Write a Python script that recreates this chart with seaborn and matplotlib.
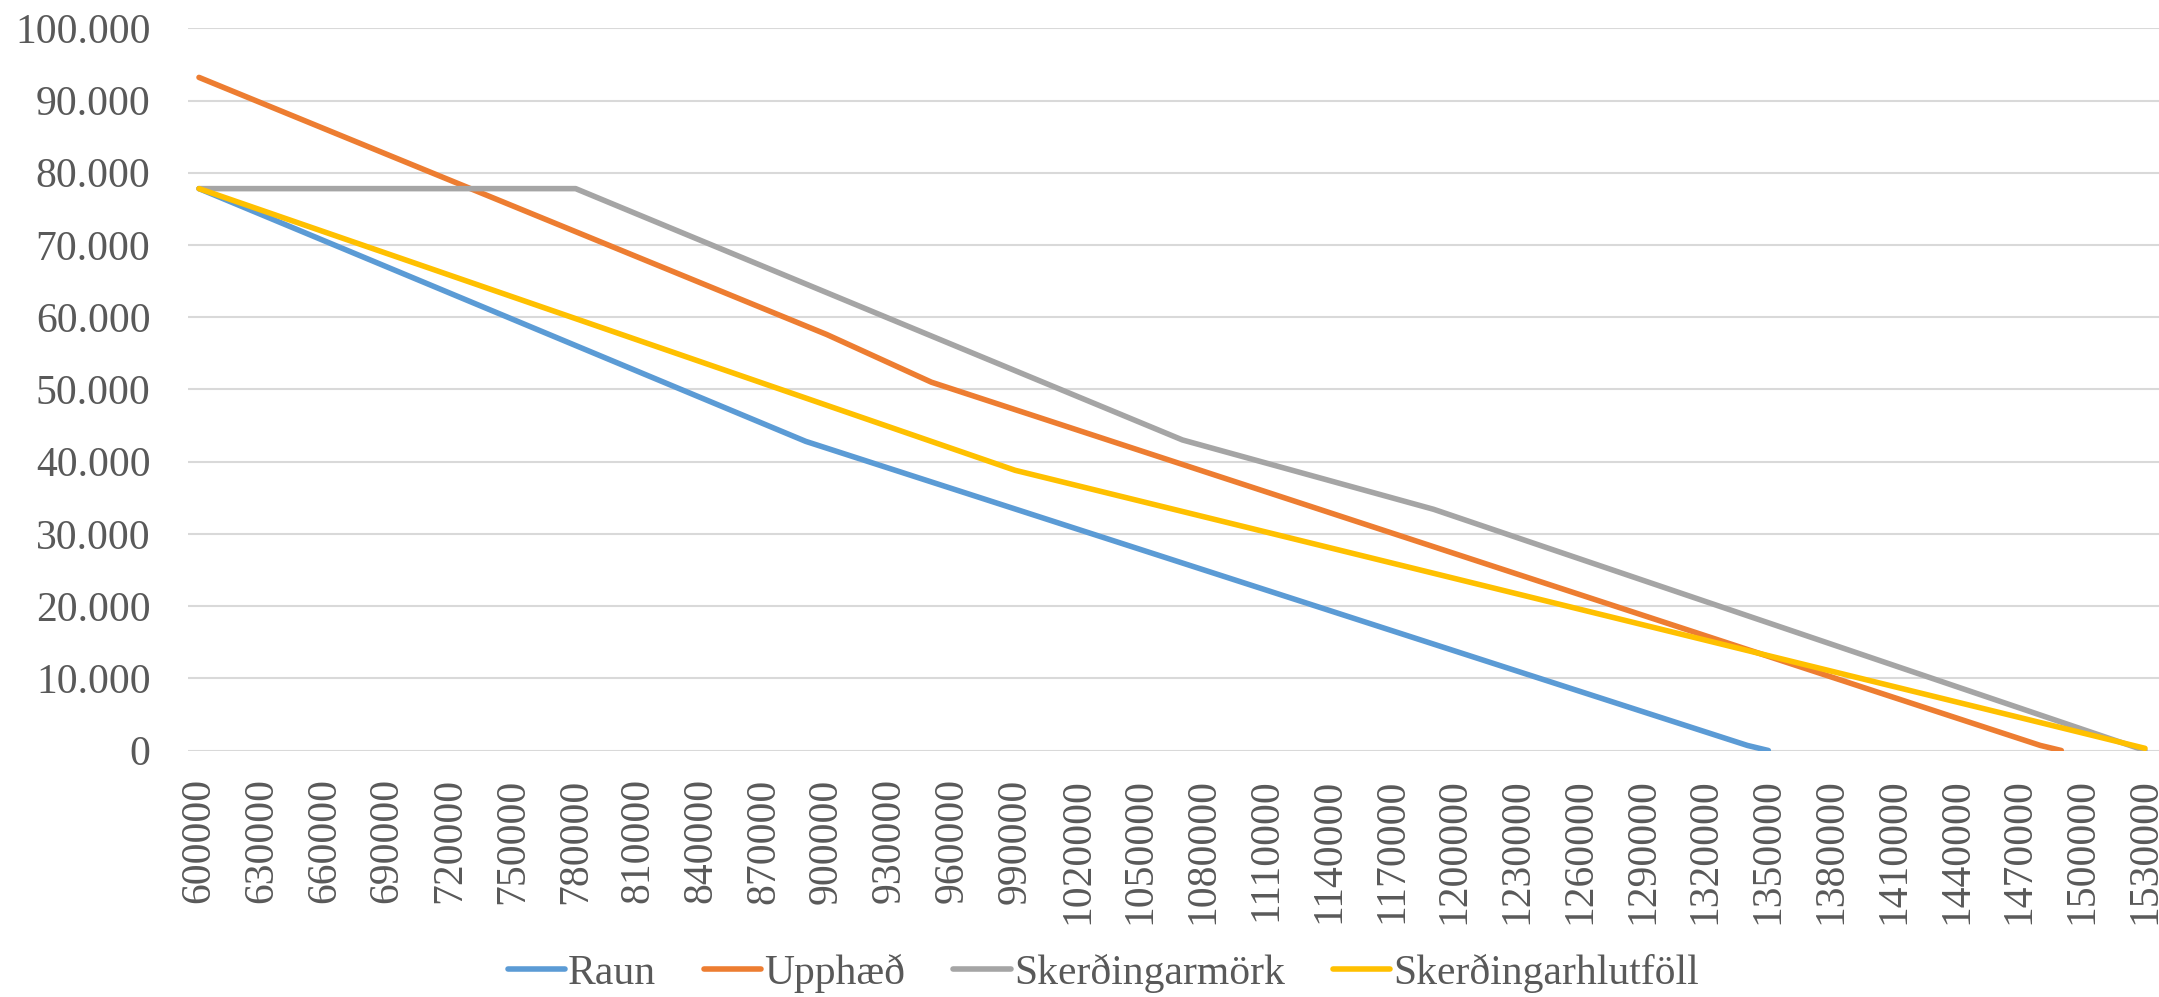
import matplotlib
matplotlib.use("Agg")
import pandas as pd
import matplotlib.pyplot as plt
from matplotlib.ticker import FuncFormatter
import seaborn as sns

# series breakpoints (income -> amount)
raun_x = [600000, 890000, 1340000, 1350000]
raun_y = [77800, 42800, 700, 0]

upphaed_x = [600000, 900000, 950000, 1480000, 1490000]
upphaed_y = [93200, 57600, 51000, 700, 0]

mork_x = [600000, 780000, 1070000, 1190000, 1530000]
mork_y = [77800, 77800, 43000, 33400, 0]

hlutfoll_x = [600000, 990000, 1530000]
hlutfoll_y = [77800, 38800, 300]

names = ["Raun", "Upphæð", "Skerðingarmörk", "Skerðingarhlutföll"]
colors = ["#5B9BD5", "#ED7D31", "#A5A5A5", "#FFC000"]

x_ticks = list(range(600000, 1530001, 30000))
y_ticks = list(range(0, 100001, 10000))

frames = []
for name, xs, ys in zip(names,
                        [raun_x, upphaed_x, mork_x, hlutfoll_x],
                        [raun_y, upphaed_y, mork_y, hlutfoll_y]):
    frames.append(pd.DataFrame({"x": xs, "y": ys, "series": name}))
df = pd.concat(frames, ignore_index=True)

sns.set_style("white")
plt.rcParams["font.family"] = ["Liberation Serif", "DejaVu Serif"]

fig = plt.figure(figsize=(21.59, 9.97), dpi=100)
ax = fig.add_axes([188 / 2159, 1 - 750.5 / 997, 1 - 188 / 2159, (750.5 - 28.3) / 997])

sns.lineplot(data=df, x="x", y="y", hue="series", hue_order=names,
             palette=colors, sort=False, linewidth=4, ax=ax,
             solid_capstyle="round", solid_joinstyle="round", zorder=3)

ax.set_xlim(600000 - 5260, 1530000 + 6700)
ax.set_ylim(0, 100000)
ax.set_xticks(x_ticks)
ax.set_xticklabels([str(v) for v in x_ticks], rotation=90)
ax.set_yticks(y_ticks)
ax.yaxis.set_major_formatter(FuncFormatter(lambda v, p: f"{int(v):,}".replace(",", ".")))
ax.tick_params(axis="both", length=0, labelsize=30, colors="#595959")
ax.tick_params(axis="y", pad=27)
ax.tick_params(axis="x", pad=20)
ax.grid(axis="y", color="#D9D9D9", linewidth=1.5, zorder=0)
ax.set_axisbelow(True)
for s in ax.spines.values():
    s.set_visible(False)
ax.set_xlabel("")
ax.set_ylabel("")

sns.move_legend(ax, "center", bbox_to_anchor=(0.511, 0.024), bbox_transform=fig.transFigure,
                ncol=4, title=None, frameon=False, fontsize=30,
                handlelength=1.37, handletextpad=0.08, columnspacing=1.15,
                labelcolor="#595959")

fig.savefig("out.png", dpi=100)
